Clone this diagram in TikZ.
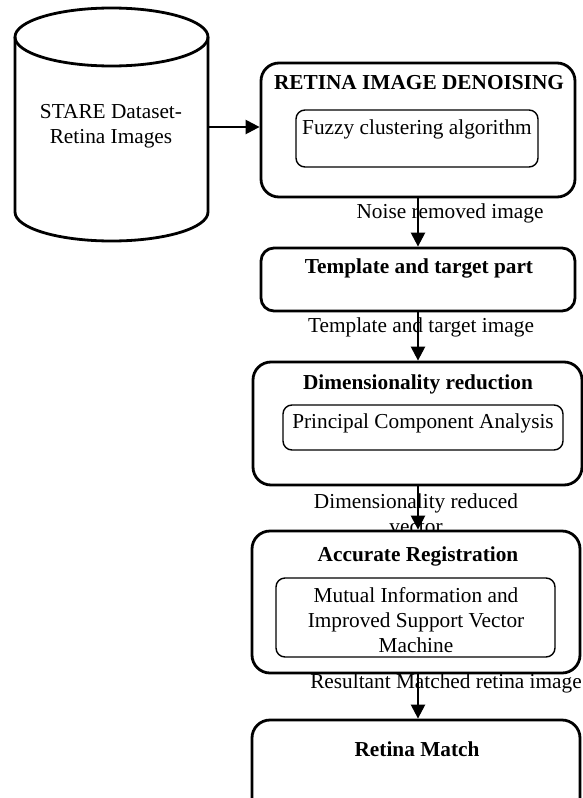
\documentclass[tikz,border=0pt]{standalone}
\usepackage{fontspec}
\setmainfont{Liberation Serif}
\usetikzlibrary{arrows.meta}
\begin{document}
\begin{tikzpicture}[x=1pt,y=1pt,
  txt/.style={font=\fontsize{21.3}{25}\selectfont, inner sep=0pt, align=center},
  ttl/.style={font=\fontsize{21.3}{25}\selectfont\bfseries, inner sep=0pt},
  outerbox/.style={draw, line width=2.8pt, fill=white, rounded corners=18pt, inner sep=0pt},
  innerbox/.style={draw, line width=1.4pt, rounded corners=9pt, inner sep=0pt},
  cylline/.style={line width=2.8pt},
  arr/.style={line width=2.4pt, -{Triangle[length=14pt,width=14pt]}}
]
\useasboundingbox (0,0) rectangle (583,-798);
\clip (0,0) rectangle (583,-798);

% cylinder
\draw[cylline] (111.5,-37) ellipse [x radius=96.5pt, y radius=29pt];
\draw[cylline] (15,-37) -- (15,-212) arc[start angle=180, end angle=360, x radius=96.5pt, y radius=29pt] -- (208,-37);
\node[inner sep=0pt, minimum width=193pt, minimum height=233pt] (cyl) at (111.5,-127) {};
\node[txt] (cyltext) at (111,-126) {STARE Dataset-\\Retina Images};

% connector labels (drawn first, so boxes and arrows lie over them)
\node[txt] (lab1) at (450,-213) {Noise removed image};
\node[txt] (lab2) at (421,-327) {Template and target image};
\node[txt] (lab3) at (416,-514) {Dimensionality reduced\\vector};
\node[txt] (lab4) at (446,-683) {Resultant Matched retina image};

% boxes
\node[outerbox, minimum width=314pt, minimum height=134pt] (den) at (418,-130) {};
\node[ttl] (dent) at (419,-83) {RETINA IMAGE DENOISING};
\node[innerbox, minimum width=242pt, minimum height=57pt] (fuz) at (417,-138.5) {};
\node[txt] (fuzt) at (417,-129) {Fuzzy clustering algorithm};

\node[outerbox, rounded corners=13pt, minimum width=314pt, minimum height=63pt] (tmp) at (418,-279.5) {};
\node[ttl] (tmpt) at (419,-268) {Template and target part};

\node[outerbox, minimum width=329pt, minimum height=123pt] (dim) at (417.5,-423.5) {};
\node[ttl] (dimt) at (418,-384) {Dimensionality reduction};
\node[innerbox, minimum width=280pt, minimum height=45pt] (pca) at (423,-427.5) {};
\node[txt] (pcat) at (423,-423) {Principal Component Analysis};

\node[outerbox, minimum width=328pt, minimum height=142pt] (acc) at (416,-602) {};
\node[ttl] (acct) at (418,-556) {Accurate Registration};
\node[innerbox, minimum width=279pt, minimum height=79pt] (svm) at (415.5,-617.5) {};
\node[txt] (svmt) at (416,-620) {Mutual Information and\\Improved Support Vector\\Machine};

\node[outerbox, minimum width=328pt, minimum height=130pt] (ret) at (416,-785) {};
\node[ttl] (rett) at (417,-749) {Retina Match};

% connectors
\draw[arr] (cyl.east) -- (cyl.east -| den.west);
\draw[arr] (den.south) -- (tmp.north);
\draw[arr] (tmp.south) -- (tmp.south |- dim.north);
\draw[arr] (tmp.south |- dim.south) -- (tmp.south |- acc.north);
\draw[arr] (tmp.south |- acc.south) -- (tmp.south |- ret.north);
\end{tikzpicture}
\end{document}
